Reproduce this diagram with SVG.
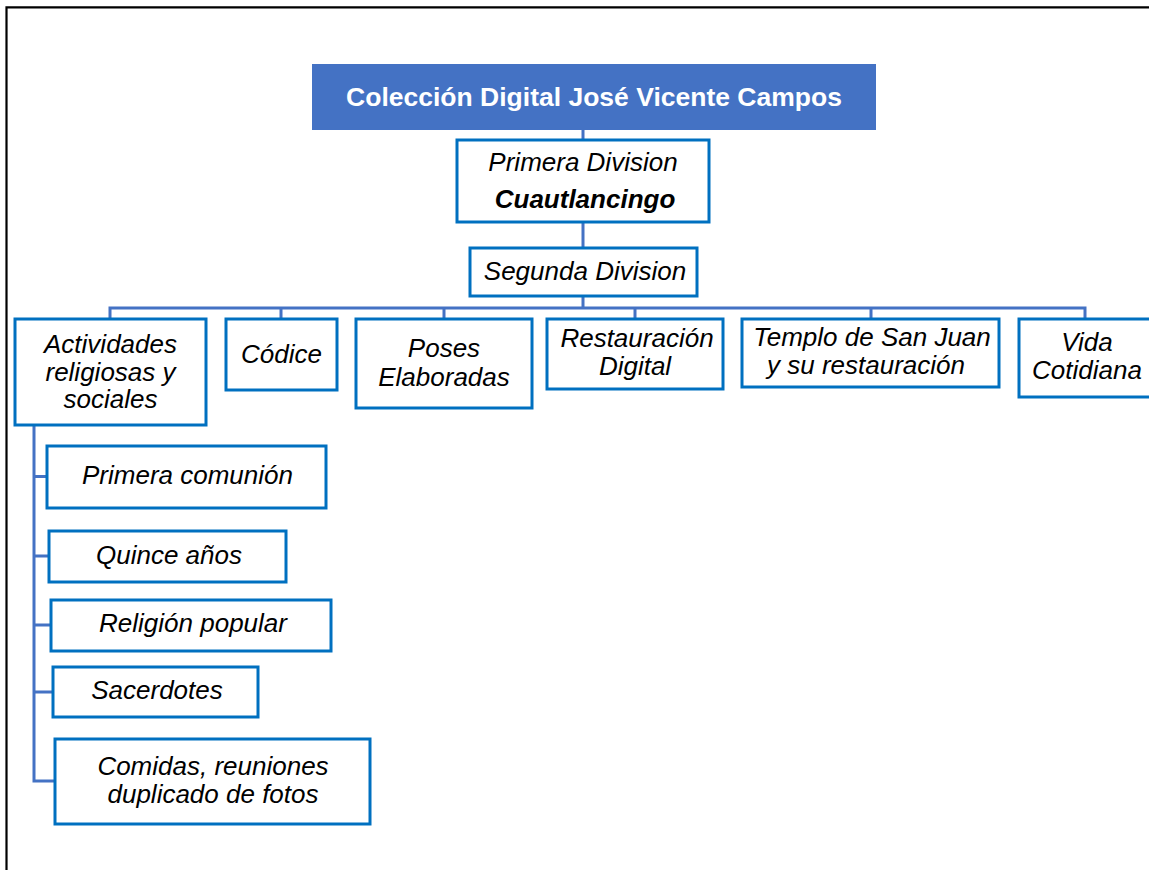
<svg xmlns="http://www.w3.org/2000/svg" width="1149" height="870" viewBox="0 0 1149 870">
<style>
.box{fill:#fff;stroke:#0070C0;stroke-width:3}
.t{font-family:"Liberation Sans",Arial,sans-serif;font-size:26px;font-style:italic;fill:#000;text-anchor:middle}
.title{font-family:"Liberation Sans",Arial,sans-serif;font-size:26.5px;font-weight:bold;fill:#fff;text-anchor:middle}
.c{fill:none;stroke:#4472C4;stroke-width:3}
</style>
<rect x="0" y="0" width="1149" height="870" fill="#fff"/>
<path d="M6.5 870 V7.3 H1149" fill="none" stroke="#000" stroke-width="2.2"/>
<g id="connectors">
<path class="c" d="M583 130 V140 M583 222 V248 M583 296 V308 M110 319 V308 H1085 V319 M281 308 V319 M444 308 V319 M635 308 V319 M871 308 V319"/>
<path class="c" d="M34 425 V781 H55 M34 476.5 H47 M34 556 H49 M34 625 H51 M34 692 H53"/>
</g>
<g id="title">
<rect x="312" y="64" width="564" height="66" fill="#4472C4"/>
<text class="title" x="594" y="106">Colección Digital José Vicente Campos</text>
</g>
<g id="primera">
<rect class="box" x="457" y="140" width="252" height="82"/>
<text class="t" x="583" y="171">Primera Division</text>
<text class="t" x="585" y="208" font-weight="bold">Cuautlancingo</text>
</g>
<g id="segunda">
<rect class="box" x="470" y="248" width="227" height="48"/>
<text class="t" x="585" y="280">Segunda Division</text>
</g>
<g id="actividades">
<rect class="box" x="15" y="319" width="191" height="106"/>
<text class="t" x="110.5" y="353">Actividades</text>
<text class="t" x="110.5" y="380.5">religiosas y</text>
<text class="t" x="110.5" y="408">sociales</text>
</g>
<g id="codice">
<rect class="box" x="226" y="319" width="111" height="71"/>
<text class="t" x="281.5" y="363">Códice</text>
</g>
<g id="poses">
<rect class="box" x="356" y="319" width="176" height="89"/>
<text class="t" x="444" y="357">Poses</text>
<text class="t" x="444" y="386">Elaboradas</text>
</g>
<g id="restauracion">
<rect class="box" x="547" y="319" width="176" height="70"/>
<text class="t" x="637" y="347">Restauración</text>
<text class="t" x="635" y="375">Digital</text>
</g>
<g id="templo">
<rect class="box" x="742" y="319" width="257" height="68"/>
<text class="t" x="872" y="346">Templo de San Juan</text>
<text class="t" x="866" y="374">y su restauración</text>
</g>
<g id="vida">
<rect class="box" x="1019" y="319" width="140" height="78"/>
<text class="t" x="1087" y="351">Vida</text>
<text class="t" x="1087" y="379">Cotidiana</text>
</g>
<g id="primera-comunion">
<rect class="box" x="47" y="446" width="279" height="62"/>
<text class="t" x="187.5" y="484">Primera comunión</text>
</g>
<g id="quince">
<rect class="box" x="49" y="531" width="237" height="51"/>
<text class="t" x="169" y="564">Quince años</text>
</g>
<g id="religion">
<rect class="box" x="51" y="600" width="280" height="51"/>
<text class="t" x="193" y="632">Religión popular</text>
</g>
<g id="sacerdotes">
<rect class="box" x="53" y="667" width="205" height="50"/>
<text class="t" x="157" y="699">Sacerdotes</text>
</g>
<g id="comidas">
<rect class="box" x="55" y="739" width="315" height="85"/>
<text class="t" x="213" y="775">Comidas, reuniones</text>
<text class="t" x="213" y="803">duplicado de fotos</text>
</g>
</svg>
